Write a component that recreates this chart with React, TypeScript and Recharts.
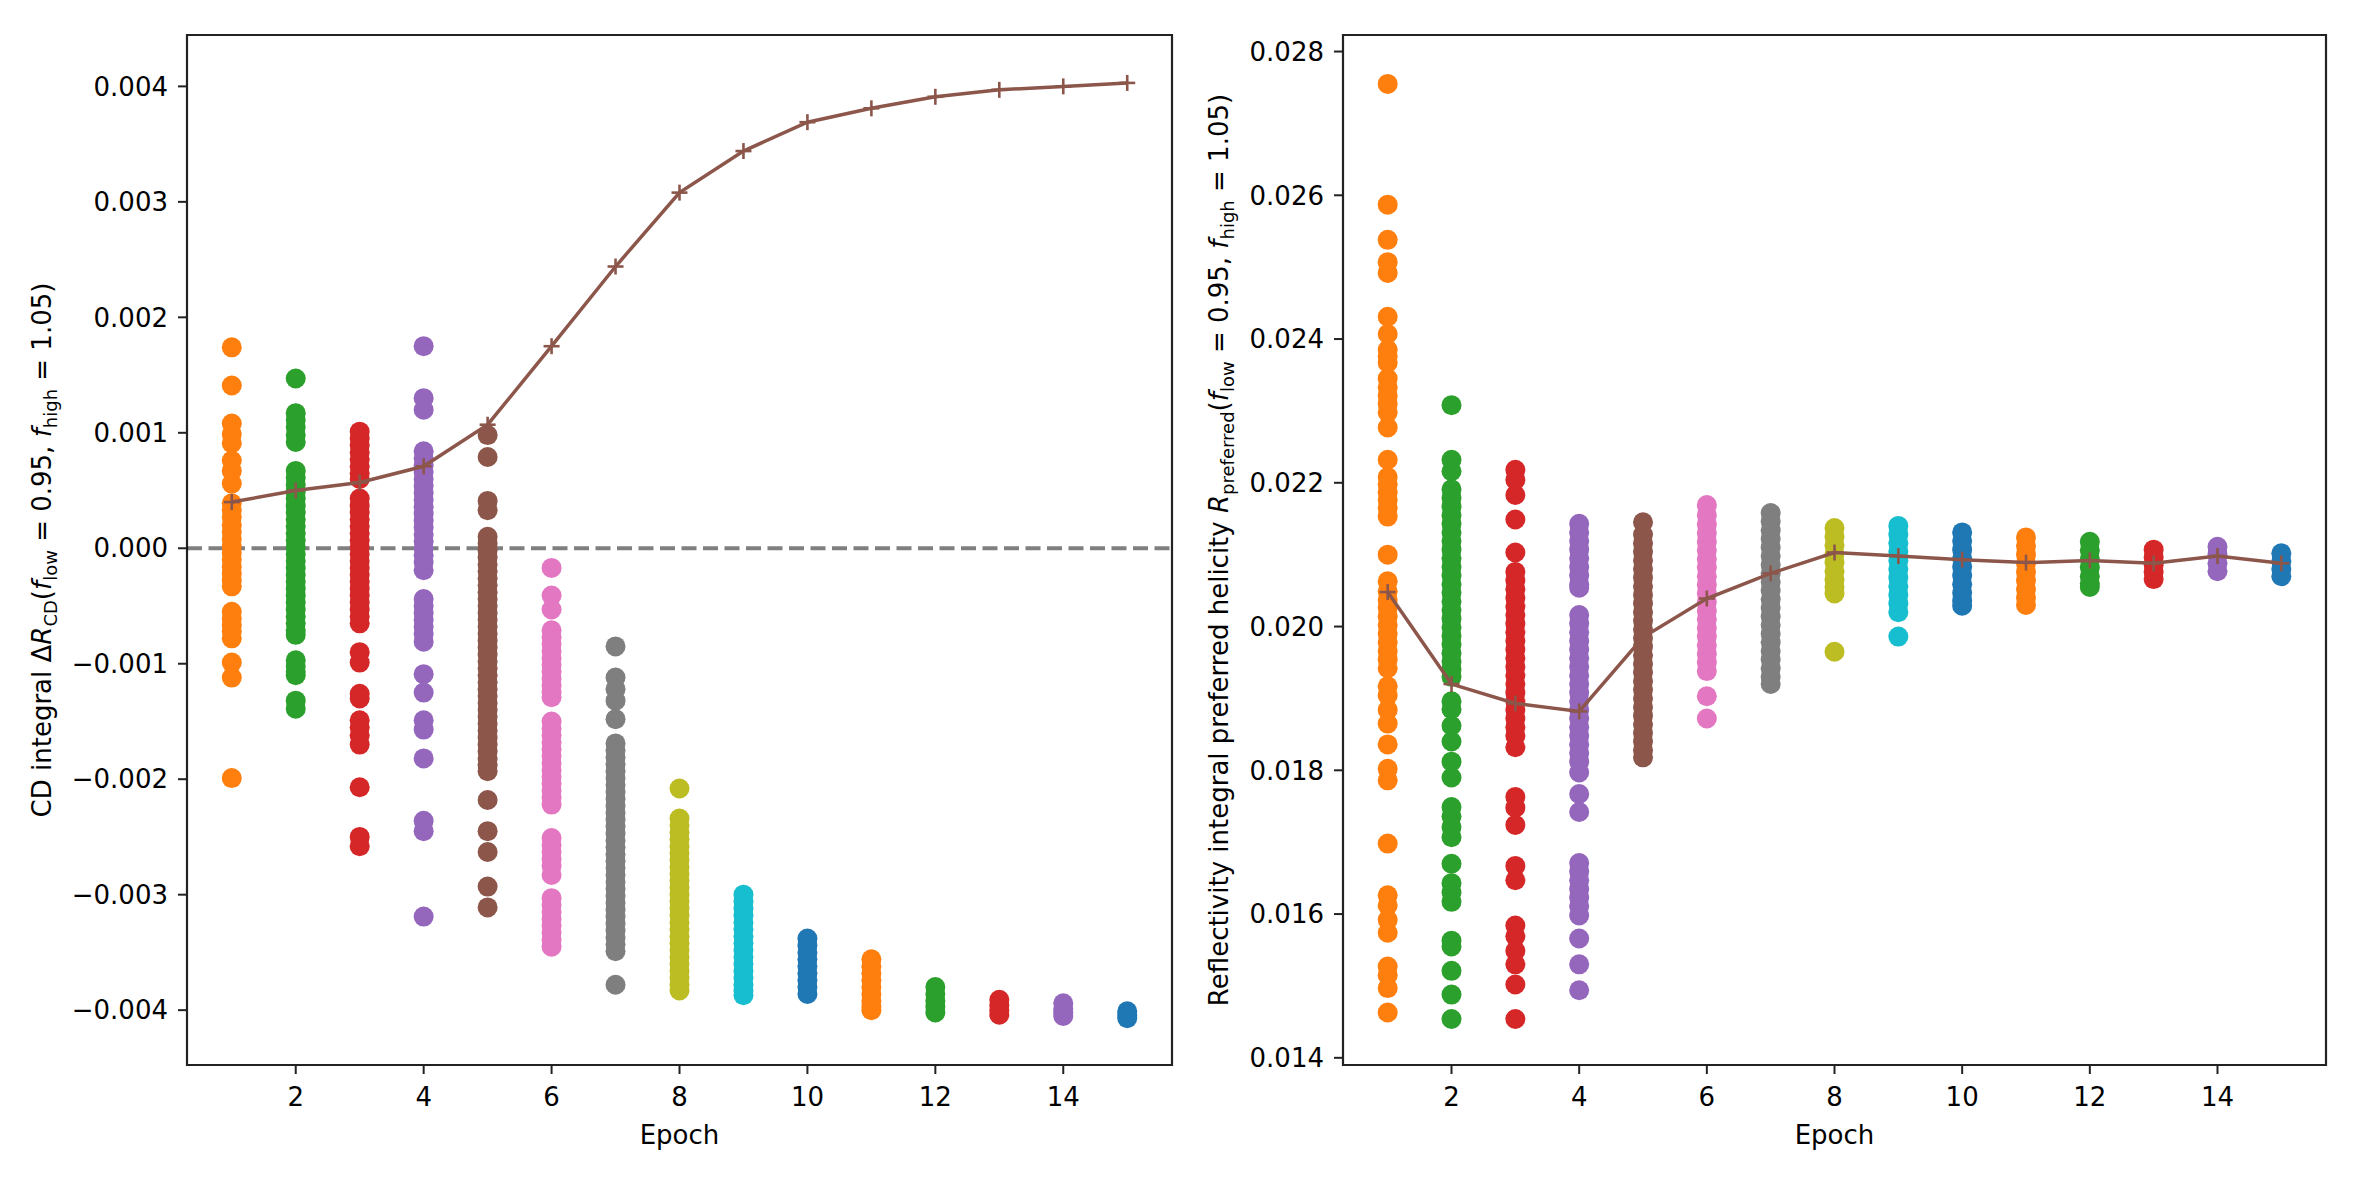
import type { ReactNode } from "react";
import { ReferenceArea, ReferenceLine, Scatter, ScatterChart, XAxis, YAxis } from "recharts";

// CD integral ΔR_CD per epoch, values in units of 1e-3
const cd1 = [1.74, 1.41, 1.08, 0.99, 0.91, 0.76, 0.67, 0.56, 0.39, 0.33, 0.27, 0.2, 0.14, 0.08, 0.02, -0.04, -0.1, -0.16, -0.22, -0.28, -0.33, -0.55, -0.61, -0.67, -0.72, -0.78, -0.99, -1.12, -1.99];
const cd2 = [1.47, 1.17, 1.11, 1.05, 0.98, 0.92, 0.67, 0.61, 0.55, 0.49, 0.43, 0.37, 0.31, 0.25, 0.19, 0.13, 0.07, 0.01, -0.05, -0.11, -0.17, -0.23, -0.29, -0.35, -0.41, -0.47, -0.53, -0.59, -0.65, -0.71, -0.75, -0.97, -1.02, -1.07, -1.1, -1.32, -1.39];
const cd3 = [1.01, 0.95, 0.89, 0.83, 0.77, 0.71, 0.65, 0.6, 0.43, 0.37, 0.31, 0.25, 0.19, 0.13, 0.07, 0.01, -0.05, -0.11, -0.17, -0.23, -0.29, -0.35, -0.41, -0.47, -0.53, -0.59, -0.65, -0.9, -0.99, -1.26, -1.3, -1.49, -1.55, -1.62, -1.7, -2.07, -2.5, -2.58];
const cd4 = [1.75, 1.3, 1.2, 0.84, 0.78, 0.72, 0.66, 0.6, 0.54, 0.48, 0.42, 0.36, 0.3, 0.24, 0.18, 0.12, 0.06, 0.0, -0.06, -0.12, -0.19, -0.44, -0.5, -0.56, -0.62, -0.68, -0.74, -0.81, -1.09, -1.25, -1.49, -1.57, -1.82, -2.36, -2.45, -3.19];
const cd5 = [0.98, 0.79, 0.41, 0.33, 0.1, 0.04, -0.02, -0.08, -0.14, -0.2, -0.26, -0.32, -0.38, -0.44, -0.5, -0.56, -0.62, -0.68, -0.74, -0.8, -0.86, -0.92, -0.98, -1.04, -1.1, -1.16, -1.22, -1.28, -1.34, -1.4, -1.46, -1.52, -1.58, -1.64, -1.7, -1.76, -1.82, -1.88, -1.93, -2.18, -2.45, -2.63, -2.93, -3.11];
const cd6 = [-0.17, -0.41, -0.53, -0.71, -0.77, -0.83, -0.89, -0.95, -1.01, -1.07, -1.13, -1.19, -1.25, -1.29, -1.5, -1.56, -1.62, -1.68, -1.74, -1.8, -1.86, -1.92, -1.98, -2.04, -2.1, -2.16, -2.22, -2.51, -2.57, -2.63, -2.69, -2.75, -2.83, -3.03, -3.09, -3.15, -3.21, -3.27, -3.33, -3.39, -3.45];
const cd7 = [-0.85, -1.12, -1.22, -1.32, -1.48, -1.69, -1.75, -1.81, -1.87, -1.93, -1.99, -2.05, -2.11, -2.17, -2.23, -2.29, -2.35, -2.41, -2.47, -2.53, -2.59, -2.65, -2.71, -2.77, -2.83, -2.89, -2.95, -3.01, -3.07, -3.13, -3.19, -3.25, -3.31, -3.37, -3.43, -3.49, -3.78];
const cd8 = [-2.08, -2.34, -2.4, -2.46, -2.52, -2.58, -2.64, -2.7, -2.76, -2.82, -2.88, -2.94, -3.0, -3.06, -3.12, -3.18, -3.24, -3.3, -3.36, -3.42, -3.48, -3.54, -3.6, -3.66, -3.72, -3.78, -3.83];
const cd9 = [-3.0, -3.06, -3.12, -3.18, -3.24, -3.3, -3.36, -3.42, -3.48, -3.54, -3.6, -3.66, -3.72, -3.78, -3.83, -3.87];
const cd10 = [-3.38, -3.44, -3.5, -3.56, -3.62, -3.68, -3.74, -3.8, -3.86];
const cd11 = [-3.56, -3.62, -3.68, -3.74, -3.8, -3.86, -3.92, -3.97, -4.0];
const cd12 = [-3.8, -3.86, -3.92, -3.97, -4.02];
const cd13 = [-3.91, -3.96, -4.0, -4.04];
const cd14 = [-3.94, -3.99, -4.02, -4.05];
const cd15 = [-4.01, -4.04, -4.07];
const cdMean = [0.4, 0.5, 0.57, 0.71, 1.07, 1.75, 2.44, 3.08, 3.44, 3.69, 3.81, 3.91, 3.97, 4.0, 4.03];

// Reflectivity integral R_preferred per epoch, values in units of 1e-3
const r1 = [27.55, 25.87, 25.38, 25.07, 24.92, 24.31, 24.07, 23.85, 23.76, 23.67, 23.45, 23.33, 23.21, 23.1, 22.98, 22.77, 22.32, 22.08, 21.98, 21.87, 21.76, 21.65, 21.53, 21.0, 20.63, 20.49, 20.37, 20.26, 20.14, 20.02, 19.9, 19.78, 19.66, 19.54, 19.42, 19.17, 19.04, 18.84, 18.65, 18.36, 18.02, 17.86, 16.98, 16.26, 16.12, 15.92, 15.74, 15.27, 15.15, 14.97, 14.63];
const r2 = [23.08, 22.32, 22.16, 21.91, 21.79, 21.67, 21.55, 21.43, 21.31, 21.19, 21.07, 20.95, 20.83, 20.71, 20.59, 20.47, 20.35, 20.23, 20.11, 19.99, 19.87, 19.75, 19.63, 19.51, 19.4, 19.3, 18.96, 18.85, 18.62, 18.4, 18.12, 17.9, 17.49, 17.36, 17.21, 17.07, 16.7, 16.43, 16.3, 16.17, 15.63, 15.55, 15.21, 14.88, 14.54];
const r3 = [22.18, 22.04, 21.83, 21.49, 21.03, 20.76, 20.64, 20.52, 20.4, 20.28, 20.16, 20.04, 19.92, 19.8, 19.68, 19.56, 19.44, 19.32, 19.2, 19.08, 18.96, 18.84, 18.72, 18.6, 18.48, 18.32, 17.63, 17.48, 17.24, 16.67, 16.47, 15.84, 15.69, 15.49, 15.3, 15.02, 14.54];
const r4 = [21.43, 21.31, 21.19, 21.07, 20.95, 20.83, 20.71, 20.59, 20.54, 20.16, 20.04, 19.92, 19.8, 19.68, 19.56, 19.44, 19.32, 19.2, 19.08, 18.96, 18.84, 18.72, 18.6, 18.48, 18.36, 18.24, 18.12, 17.97, 17.67, 17.42, 16.71, 16.59, 16.47, 16.35, 16.23, 16.11, 15.98, 15.66, 15.3, 14.94];
const r5 = [21.45, 21.28, 21.16, 21.04, 20.92, 20.8, 20.68, 20.56, 20.44, 20.32, 20.2, 20.08, 19.96, 19.84, 19.72, 19.6, 19.48, 19.36, 19.24, 19.12, 19.0, 18.88, 18.76, 18.64, 18.52, 18.4, 18.28, 18.18];
const r6 = [21.69, 21.55, 21.42, 21.3, 21.18, 21.06, 20.94, 20.82, 20.7, 20.58, 20.46, 20.34, 20.22, 20.1, 19.98, 19.86, 19.74, 19.62, 19.5, 19.38, 19.03, 18.72];
const r7 = [21.58, 21.46, 21.34, 21.22, 21.1, 20.98, 20.86, 20.74, 20.62, 20.5, 20.38, 20.26, 20.14, 20.02, 19.9, 19.78, 19.66, 19.54, 19.42, 19.3, 19.2];
const r8 = [21.37, 21.25, 21.13, 21.01, 20.89, 20.77, 20.65, 20.55, 20.46, 19.65];
const r9 = [21.4, 21.28, 21.16, 21.04, 20.92, 20.8, 20.68, 20.56, 20.44, 20.32, 20.2, 19.86];
const r10 = [21.31, 21.19, 21.07, 20.95, 20.83, 20.71, 20.59, 20.47, 20.36, 20.29];
const r11 = [21.24, 21.12, 21.0, 20.88, 20.76, 20.64, 20.52, 20.4, 20.3];
const r12 = [21.18, 21.06, 20.94, 20.82, 20.7, 20.6, 20.55];
const r13 = [21.07, 20.96, 20.86, 20.76, 20.66];
const r14 = [21.11, 21.0, 20.88, 20.77];
const r15 = [21.02, 20.91, 20.8, 20.7];
const rMean = [20.48, 19.2, 18.93, 18.82, 19.85, 20.39, 20.74, 21.03, 20.98, 20.93, 20.89, 20.92, 20.88, 20.98, 20.88];

const EPOCHS = [1, 2, 3, 4, 5, 6, 7, 8, 9, 10, 11, 12, 13, 14, 15];
const X_TICKS = [2, 4, 6, 8, 10, 12, 14];
const CD_TICKS = [-0.004, -0.003, -0.002, -0.001, 0, 0.001, 0.002, 0.003, 0.004];
const R_TICKS = [0.014, 0.016, 0.018, 0.02, 0.022, 0.024, 0.026, 0.028];

const COLORS = ["#ff7f0e", "#2ca02c", "#d62728", "#9467bd", "#8c564b", "#e377c2", "#7f7f7f", "#bcbd22", "#17becf", "#1f77b4", "#ff7f0e", "#2ca02c", "#d62728", "#9467bd", "#1f77b4"];
const BROWN = "#8c564b";
const FONT = "DejaVu Sans";
const INK = "#222";

const cdCols = [cd1, cd2, cd3, cd4, cd5, cd6, cd7, cd8, cd9, cd10, cd11, cd12, cd13, cd14, cd15];
const rCols = [r1, r2, r3, r4, r5, r6, r7, r8, r9, r10, r11, r12, r13, r14, r15];

const toPoints = (vals: number[], epoch: number) => vals.map(v => ({ x: epoch, y: v / 1000 }));
const fmt = (v: number) => v.toFixed(3).replace("-", "\u2212");

const dot = (color: string) => (p: any) => <circle cx={p.cx} cy={p.cy} r={10} fill={color} />;
const plus = (p: any) => (
  <g stroke={BROWN} strokeWidth={2.6}>
    <line x1={p.cx - 8} y1={p.cy} x2={p.cx + 8} y2={p.cy} />
    <line x1={p.cx} y1={p.cy - 8} x2={p.cx} y2={p.cy + 8} />
  </g>
);

// label pieces: [text, style] where style is "" (normal), "i" (italic) or "s" (subscript)
type Piece = [string, "" | "i" | "s"];
const F_TAIL: Piece[] = [["(", ""], ["f", "i"], ["low", "s"], [" = 0.95, ", ""], ["f", "i"], ["high", "s"], [" = 1.05)", ""]];
const CD_LABEL: Piece[] = [["CD integral Δ", ""], ["R", "i"], ["CD", "s"], ...F_TAIL];
const R_LABEL: Piece[] = [["Reflectivity integral preferred helicity ", ""], ["R", "i"], ["preferred", "s"], ...F_TAIL];

function renderPieces(pieces: Piece[]): ReactNode[] {
  let shifted = false;
  return pieces.map(([text, kind], i) => {
    let dy = 0;
    if (kind === "s" && !shifted) { dy = 6; shifted = true; }
    else if (kind !== "s" && shifted) { dy = -6; shifted = false; }
    return (
      <tspan key={i} dy={dy || undefined} fontSize={kind === "s" ? 18 : undefined} fontStyle={kind === "i" ? "italic" : undefined}>
        {text}
      </tspan>
    );
  });
}

type PanelProps = {
  cols: number[][];
  mean: number[];
  domain: [number, number];
  ticks: number[];
  width: number;
  marginLeft: number;
  marginRight: number;
  labelX: number;
  label: Piece[];
  zeroLine?: boolean;
};

function Panel({ cols, mean, domain, ticks, width, marginLeft, marginRight, labelX, label, zeroLine }: PanelProps) {
  const tick = { fontSize: 26, fill: "#000", fontFamily: FONT };
  return (
    <ScatterChart width={width} height={1181} margin={{ top: 35, right: marginRight, bottom: 56, left: marginLeft }}>
      <XAxis
        type="number"
        dataKey="x"
        domain={[0.3, 15.7]}
        ticks={X_TICKS}
        allowDataOverflow
        axisLine={false}
        tickLine={{ stroke: INK, strokeWidth: 2 }}
        tickSize={9}
        tickMargin={14}
        tick={tick}
        height={60}
        label={(p: any) => {
          const vb = p.viewBox ?? { x: 0, width: 0 };
          return (
            <text x={vb.x + vb.width / 2} y={1144} textAnchor="middle" fontFamily={FONT} fontSize={26} fill="#000">
              Epoch
            </text>
          );
        }}
      />
      <YAxis
        type="number"
        dataKey="y"
        domain={domain}
        ticks={ticks}
        allowDataOverflow
        axisLine={false}
        tickLine={{ stroke: INK, strokeWidth: 2 }}
        tickSize={9}
        tickMargin={10}
        tick={tick}
        tickFormatter={fmt}
        width={100}
        label={() => (
          <text x={labelX} y={550} transform={`rotate(-90 ${labelX} 550)`} textAnchor="middle" fontFamily={FONT} fontSize={26} fill="#000">
            {renderPieces(label)}
          </text>
        )}
      />
      {cols.map((vals, i) => (
        <Scatter key={i} data={toPoints(vals, EPOCHS[i])} fill={COLORS[i]} shape={dot(COLORS[i])} isAnimationActive={false} />
      ))}
      <Scatter
        data={mean.map((v, i) => ({ x: EPOCHS[i], y: v / 1000 }))}
        line={{ stroke: BROWN, strokeWidth: 3.5 }}
        lineType="joint"
        shape={plus}
        isAnimationActive={false}
      />
      {zeroLine && <ReferenceLine y={0} stroke="#000" strokeOpacity={0.5} strokeWidth={4} strokeDasharray="15 6.5" />}
      <ReferenceArea x1={0.3} x2={15.7} y1={domain[0]} y2={domain[1]} fill="none" stroke={INK} strokeWidth={2.2} ifOverflow="visible" />
    </ScatterChart>
  );
}

export default function App() {
  return (
    <div style={{ position: "absolute", left: 0, top: 0, width: 2363, height: 1181, background: "#fff" }}>
      <div style={{ position: "absolute", left: 0, top: 0 }}>
        <Panel
          cols={cdCols}
          mean={cdMean}
          domain={[-0.004475, 0.004445]}
          ticks={CD_TICKS}
          width={1180}
          marginLeft={87}
          marginRight={8}
          labelX={51}
          label={CD_LABEL}
          zeroLine
        />
      </div>
      <div style={{ position: "absolute", left: 1180, top: 0 }}>
        <Panel
          cols={rCols}
          mean={rMean}
          domain={[0.0139, 0.02823]}
          ticks={R_TICKS}
          width={1183}
          marginLeft={63}
          marginRight={37}
          labelX={48}
          label={R_LABEL}
        />
      </div>
    </div>
  );
}
